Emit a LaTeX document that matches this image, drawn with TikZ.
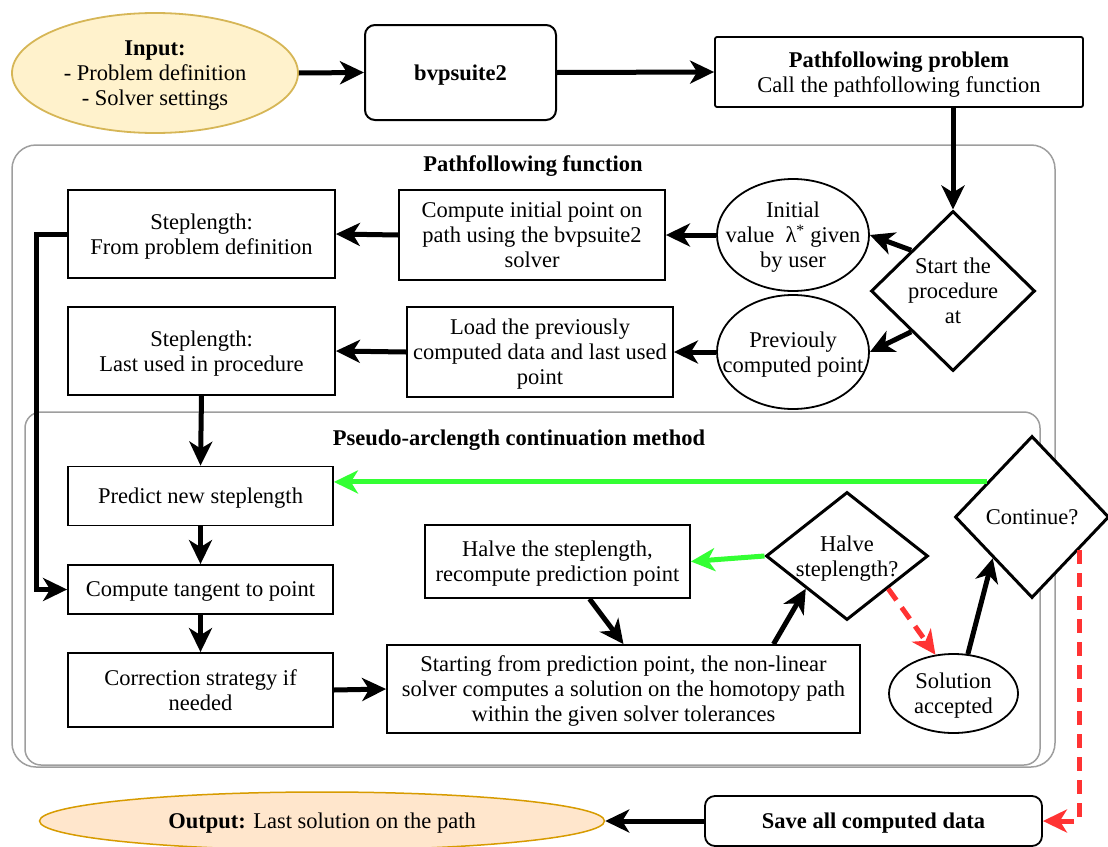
\documentclass[tikz,border=0pt]{standalone}
\usepackage{fontspec}
\setmainfont{Liberation Serif}
\usetikzlibrary{arrows.meta,shapes.geometric,calc}
\definecolor{inputfill}{HTML}{FFF2CC}
\definecolor{inputdraw}{HTML}{D6B656}
\definecolor{outfill}{HTML}{FFE6CC}
\definecolor{outdraw}{HTML}{D79B00}
\definecolor{grn}{HTML}{33FF33}
\definecolor{rd}{HTML}{FF3333}
\definecolor{framegray}{HTML}{9E9E9E}
\begin{document}
\begin{tikzpicture}[x=1pt,y=-1pt,
  font=\fontsize{22.5}{25}\selectfont,
  box/.style={draw, rectangle, line width=1.8pt, fill=white, align=center, inner sep=0pt, text depth=0pt},
  rbox/.style={box, rounded corners=10pt},
  ell/.style={draw, ellipse, line width=1.8pt, fill=white, align=center, inner sep=0pt, text depth=0pt},
  lbl/.style={align=center, inner sep=0pt, text depth=0pt},
  dia/.style={draw, diamond, line width=3pt, fill=white, inner sep=0pt},
  container/.style={draw=framegray, rectangle, line width=1.5pt, inner sep=0pt},
  ttl/.style={font=\fontsize{22.5}{25}\selectfont\bfseries, inner sep=0pt},
  arr/.style={line width=5pt, -{Stealth[length=24pt,width=23pt,inset=7pt]}},
  garr/.style={arr, draw=grn, -{Stealth[length=24pt,width=23pt,inset=7pt,fill=grn]}},
  rarr/.style={arr, draw=rd, dash pattern=on 14pt off 9pt, -{Stealth[length=24pt,width=23pt,inset=7pt,fill=rd]}}
]
\useasboundingbox (0,0) rectangle (1108,846);

% containers
\node[container, rounded corners=24pt, minimum width=1043pt, minimum height=622pt] (outer) at (533.5,456) {};
\node[ttl] (outerttl) at (533,166) {Pathfollowing function};
\node[container, rounded corners=16pt, minimum width=1015pt, minimum height=353pt] (inner) at (532.5,588.5) {};
\node[ttl] (innerttl) at (519,440) {Pseudo-arclength continuation method};

% top row
\node[ell, draw=inputdraw, fill=inputfill, minimum width=286pt, minimum height=120pt] (input) at (155,73)
  {\textbf{Input:}\\- Problem definition\\- Solver settings};
\node[rbox, line width=2pt, minimum width=191pt, minimum height=95pt] (bvp) at (460.5,72.5) {\textbf{bvpsuite2}};
\node[box, rounded corners=2pt, minimum width=368pt, minimum height=70pt] (pp) at (899,72)
  {\textbf{Pathfollowing problem}\\Call the pathfollowing function};

% pathfollowing function
\node[dia, minimum width=164pt, minimum height=160pt,
  label={[lbl]center:{Start the\\procedure\\at}}] (start) at (953,291) {};
\node[ell, minimum width=152pt, minimum height=112pt,
  label={[lbl]center:{Initial\\value ~λ\textsuperscript{*} given\\by user}}] (init) at (793,235) {};
\node[ell, minimum width=152pt, minimum height=114pt,
  label={[lbl]center:{Previouly\\computed point}}] (prev) at (793,352) {};
\node[box, minimum width=266pt, minimum height=90pt] (cip) at (532,235)
  {Compute initial point on\\path using the bvpsuite2\\solver};
\node[box, minimum width=266pt, minimum height=90pt] (load) at (540,352)
  {Load the previously\\computed data and last used\\point};
\node[box, minimum width=267pt, minimum height=88pt] (sl1) at (201.5,234)
  {Steplength:\\From problem definition};
\node[box, minimum width=267pt, minimum height=88pt] (sl2) at (201.5,351)
  {Steplength:\\Last used in procedure};

% continuation method
\node[box, minimum width=265pt, minimum height=59pt] (pred) at (200.5,496) {Predict new steplength};
\node[box, minimum width=265pt, minimum height=49pt] (tan) at (200.5,589.5) {Compute tangent to point};
\node[box, minimum width=265pt, minimum height=74pt] (corr) at (200.5,690) {Correction strategy if\\needed};
\node[box, minimum width=473pt, minimum height=88pt] (solve) at (623.5,689)
  {Starting from prediction point, the non-linear\\solver computes a solution on the homotopy path\\within the given solver tolerances};
\node[box, minimum width=265pt, minimum height=73pt] (halvebox) at (557.5,561.5)
  {Halve the steplength,\\recompute prediction point};
\node[dia, minimum width=162pt, minimum height=128pt,
  label={[lbl]center:{Halve\\steplength?}}] (hd) at (847,556) {};
\node[ell, minimum width=129pt, minimum height=79pt,
  label={[lbl]center:{Solution\\accepted}}] (sol) at (953.5,693.5) {};
\node[dia, minimum width=154pt, minimum height=162pt,
  label={[lbl]center:{Continue?}}] (cont) at (1032,517) {};

% bottom
\node[rbox, minimum width=337pt, minimum height=50pt] (save) at (873.5,821) {\textbf{Save all computed data}};
\node[ell, draw=outdraw, fill=outfill, line width=1.5pt, minimum width=565pt, minimum height=58pt] (out) at (322,821)
  {\textbf{Output:} Last solution on the path};

% connectors
\draw[arr] (input.east) -- (bvp.west);
\draw[arr] (bvp.east) -- (pp.west);
\draw[arr] (start.north |- pp.south) -- (start.north);
\draw[arr] ($(start.west)!0.5!(start.north)$) -- (init.east);
\draw[arr] (init.west) -- (cip.east);
\draw[arr] (cip.west) -- (sl1.east);
\draw[arr] ($(start.west)!0.5!(start.south)$) -- (prev.east);
\draw[arr] (prev.west) -- (load.east);
\draw[arr] (load.west) -- (sl2.east);
\draw[arr] (sl1.west) -- ++(-31,0) |- (tan.west);
\draw[arr] (sl2.south) -- (pred.north);
\draw[arr] (pred.south) -- (tan.north);
\draw[arr] (tan.south) -- (corr.north);
\draw[arr] (corr.east) -- (solve.west);
\draw[arr] ($(halvebox.south)+(32,0)$) -- (solve.north);
\draw[arr] ($(solve.north)+(150,0)$) -- ($(hd.west)!0.5!(hd.south)$);
\draw[garr] (hd.west) -- (halvebox.east);
\draw[rarr] ($(hd.east)!0.5!(hd.south)$) -- (sol.115);
\draw[arr] (sol.70) -- ($(cont.west)!0.5!(cont.south)$);
\coordinate (gstart) at ($(cont.west)!0.425!(cont.north)$);
\draw[garr] (gstart) -- (gstart -| pred.east);
\coordinate (rstart) at ($(cont.east)!0.4!(cont.south)$);
\draw[rarr] (rstart) |- (save.east);
\draw[arr] (save.west) -- (out.east);
\end{tikzpicture}
\end{document}
